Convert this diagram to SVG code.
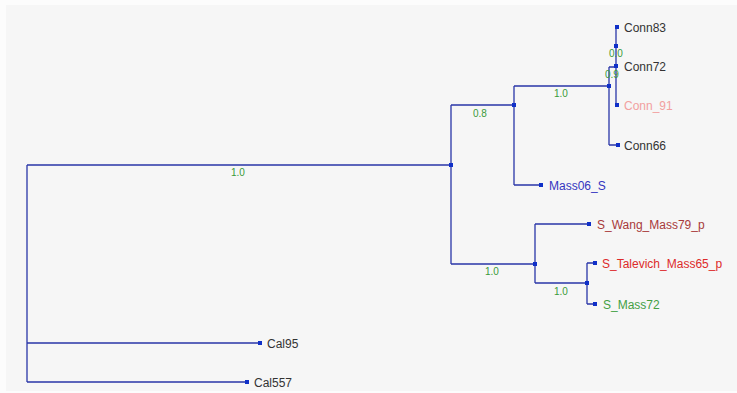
<svg xmlns="http://www.w3.org/2000/svg" width="737" height="393" viewBox="0 0 737 393">
<style>
.e{fill:none;stroke:#2a36a8;stroke-width:1.3}
.m{fill:#1030c8}
.t{font-family:"Liberation Sans",Arial,sans-serif;font-size:12px}
.s{font-family:"Liberation Sans",Arial,sans-serif;font-size:10px;fill:#3a9a3a}
</style>
<rect width="737" height="393" fill="#fcfcfc"/>
<rect x="6" y="5" width="731" height="386" fill="#f6f6f6"/>
<g id="connectors">
<path class="e" d="M27,165V382M27,165H451M27,343H259M27,382H246"/>
<path class="e" d="M451,105V264M451,105H514M451,264H535"/>
<path class="e" d="M514,86V185M514,86H609M514,185H540"/>
<path class="e" d="M609,67V145M609,67H616M609,145H617"/>
<path class="e" d="M616,27V105"/>
<path class="e" d="M535,224V283M535,224H588M535,283H587"/>
<path class="e" d="M587,263V304M587,263H594M587,304H594"/>
</g>
<g id="internal-nodes">
<rect class="m" x="449" y="163" width="4" height="4"/>
<rect class="m" x="512" y="103" width="4" height="4"/>
<rect class="m" x="607" y="84" width="4" height="4"/>
<rect class="m" x="614" y="44" width="4" height="4"/>
<rect class="m" x="614" y="64" width="4" height="4"/>
<rect class="m" x="533" y="262" width="4" height="4"/>
<rect class="m" x="585" y="281" width="4" height="4"/>
</g>
<g id="support-labels">
<text class="s" x="231" y="176">1.0</text>
<text class="s" x="473" y="117">0.8</text>
<text class="s" x="554" y="97">1.0</text>
<text class="s" x="609" y="57">0.0</text>
<text class="s" x="605" y="78">0.9</text>
<text class="s" x="485" y="275">1.0</text>
<text class="s" x="554" y="295">1.0</text>
</g>
<g id="Conn83"><rect class="m" x="615" y="25" width="4" height="4"/><text class="t" x="624" y="32" fill="#333">Conn83</text></g>
<g id="Conn72"><text class="t" x="624" y="71" fill="#333">Conn72</text></g>
<g id="Conn_91"><rect class="m" x="615" y="103" width="4" height="4"/><text class="t" x="624" y="110" fill="#f2a0a0">Conn_91</text></g>
<g id="Conn66"><rect class="m" x="616" y="143" width="4" height="4"/><text class="t" x="624" y="150" fill="#333">Conn66</text></g>
<g id="Mass06_S"><rect class="m" x="539" y="183" width="4" height="4"/><text class="t" x="549" y="190" fill="#3535c0">Mass06_S</text></g>
<g id="S_Wang_Mass79_p"><rect class="m" x="587" y="222" width="4" height="4"/><text class="t" x="597" y="229" fill="#a83a3a">S_Wang_Mass79_p</text></g>
<g id="S_Talevich_Mass65_p"><rect class="m" x="593" y="261" width="4" height="4"/><text class="t" x="602" y="268" fill="#dd2a2a">S_Talevich_Mass65_p</text></g>
<g id="S_Mass72"><rect class="m" x="593" y="302" width="4" height="4"/><text class="t" x="603" y="309" fill="#44a044">S_Mass72</text></g>
<g id="Cal95"><rect class="m" x="258" y="341" width="4" height="4"/><text class="t" x="267" y="348" fill="#333">Cal95</text></g>
<g id="Cal557"><rect class="m" x="245" y="380" width="4" height="4"/><text class="t" x="254" y="387" fill="#333">Cal557</text></g>
</svg>
